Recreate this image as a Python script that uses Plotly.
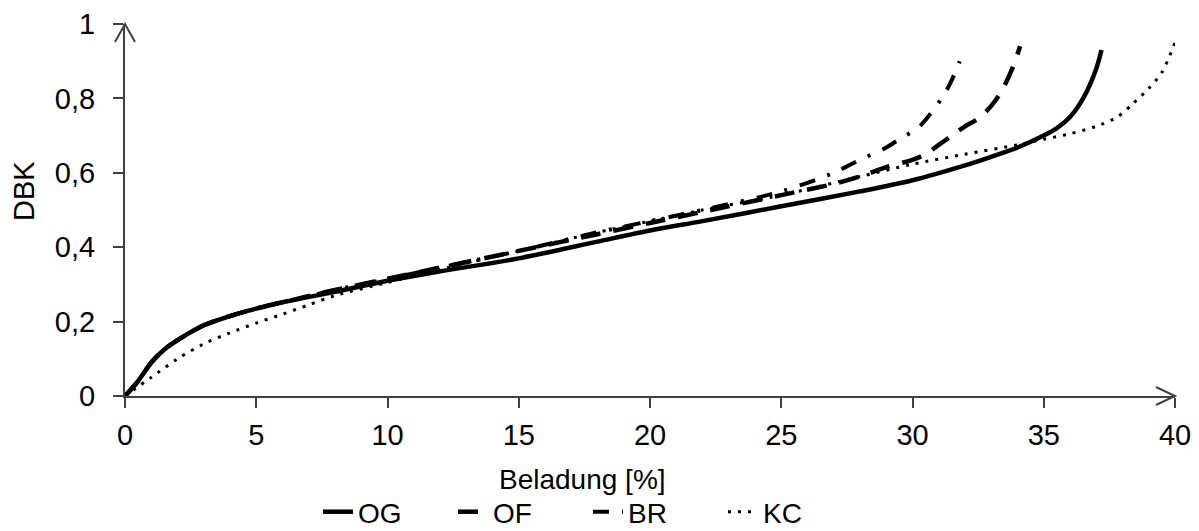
import plotly.graph_objects as go

# ---- data ----
og_x = [0, 0.5, 1, 1.5, 2, 3, 4, 5, 6, 8, 10, 12, 15, 18, 20, 22, 25, 28, 30, 32, 33, 34, 35, 35.5, 36, 36.5, 37, 37.2]
og_y = [0, 0.04, 0.09, 0.125, 0.15, 0.19, 0.215, 0.235, 0.252, 0.28, 0.31, 0.335, 0.37, 0.415, 0.445, 0.47, 0.51, 0.55, 0.58, 0.62, 0.643, 0.668, 0.70, 0.72, 0.75, 0.80, 0.88, 0.93]

of_x = [0, 0.5, 1, 1.5, 2, 3, 4, 5, 6, 8, 10, 12, 15, 18, 20, 22, 25, 27, 28, 29, 30, 30.5, 31, 31.5, 32, 32.5, 33, 33.4, 33.8, 34.1]
of_y = [0, 0.04, 0.09, 0.125, 0.15, 0.19, 0.215, 0.235, 0.252, 0.285, 0.315, 0.345, 0.39, 0.435, 0.465, 0.495, 0.54, 0.57, 0.59, 0.615, 0.635, 0.65, 0.675, 0.70, 0.725, 0.745, 0.78, 0.82, 0.88, 0.94]

br_x = [0, 0.5, 1, 1.5, 2, 3, 4, 5, 6, 8, 10, 12, 15, 18, 20, 22, 25, 27, 28, 29, 29.6, 30.2, 30.7, 31.2, 31.5, 31.8]
br_y = [0, 0.04, 0.09, 0.125, 0.15, 0.19, 0.215, 0.235, 0.252, 0.285, 0.315, 0.345, 0.39, 0.44, 0.47, 0.50, 0.55, 0.60, 0.635, 0.668, 0.695, 0.72, 0.76, 0.81, 0.85, 0.90]

kc_x = [0, 1, 2, 3, 4, 5, 6, 7, 8, 10, 12, 15, 18, 20, 22, 25, 28, 30, 32, 34, 35, 36, 37, 37.8, 38.4, 39, 39.5, 40]
kc_y = [0, 0.05, 0.10, 0.14, 0.17, 0.196, 0.22, 0.245, 0.27, 0.305, 0.34, 0.39, 0.44, 0.47, 0.50, 0.54, 0.59, 0.623, 0.65, 0.675, 0.69, 0.705, 0.725, 0.75, 0.786, 0.827, 0.87, 0.95]

x_ticks = [0, 5, 10, 15, 20, 25, 30, 35, 40]
y_ticks = [0, 0.2, 0.4, 0.6, 0.8, 1]
y_tick_labels = ["0", "0,2", "0,4", "0,6", "0,8", "1"]

FONT = "Liberation Sans, Arial, sans-serif"
AX = "#404040"
PW, PH = 1050.0, 372.0  # plot area size in px

fig = go.Figure()
fig.add_trace(go.Scatter(x=og_x, y=og_y, name="OG", mode="lines",
                         line=dict(color="black", width=4.5, shape="spline", smoothing=0.8)))
fig.add_trace(go.Scatter(x=of_x, y=of_y, name="OF", mode="lines",
                         line=dict(color="black", width=4.5, dash="20px,13px", shape="spline", smoothing=0.8)))
fig.add_trace(go.Scatter(x=br_x, y=br_y, name="BR", mode="lines",
                         line=dict(color="black", width=4, dash="16px,13px,3px,13px", shape="spline", smoothing=0.8)))
fig.add_trace(go.Scatter(x=kc_x, y=kc_y, name="KC", mode="lines",
                         line=dict(color="black", width=3, dash="3px,7px", shape="spline", smoothing=0.8)))

fig.update_layout(
    width=1199, height=531,
    margin=dict(l=125, r=24, t=24, b=135),
    plot_bgcolor="white", paper_bgcolor="white",
    font=dict(family=FONT, size=28, color="black"),
    showlegend=True,
    legend=dict(orientation="h", x=(318 - 125) / PW, xanchor="left",
                yref="container", y=(531 - 487) / 531.0, yanchor="top",
                font=dict(size=28), entrywidth=90, traceorder="normal",
                tracegroupgap=0, bgcolor="rgba(0,0,0,0)"),
)
fig.update_xaxes(range=[0, 40], tickvals=x_ticks, showline=True, linecolor=AX, linewidth=2,
                 ticks="outside", ticklen=10, tickwidth=2, tickcolor=AX, showgrid=False,
                 zeroline=False, ticklabelstandoff=2, tickfont=dict(size=29), automargin=False)
fig.update_yaxes(range=[0, 1], tickvals=y_ticks, ticktext=y_tick_labels, showline=True,
                 linecolor=AX, linewidth=2, ticks="outside", ticklen=10, tickwidth=2,
                 tickcolor=AX, showgrid=False, zeroline=False, ticklabelstandoff=12,
                 tickfont=dict(size=29), automargin=False)

# axis titles
fig.add_annotation(text="Beladung [%]", xref="paper", yref="paper", x=(582 - 125) / PW,
                   y=-(479 - 396) / PH, xanchor="center", yanchor="middle",
                   showarrow=False, font=dict(size=28))
fig.add_annotation(text="DBK", xref="paper", yref="paper", x=-(125 - 24) / PW,
                   y=(396 - 191) / PH, xanchor="center", yanchor="middle", textangle=-90,
                   showarrow=False, font=dict(size=29))

# open arrow heads at axis ends
fig.add_shape(type="path", xref="paper", yref="paper", xsizemode="pixel", ysizemode="pixel",
              xanchor=1, yanchor=0, path="M -19,9 L 0,0 L -19,-9",
              line=dict(color=AX, width=2))
fig.add_shape(type="path", xref="paper", yref="paper", xsizemode="pixel", ysizemode="pixel",
              xanchor=0, yanchor=1, path="M -10,-18 L 0,0 L 10,-18",
              line=dict(color=AX, width=2))

fig.write_html("out.html")
